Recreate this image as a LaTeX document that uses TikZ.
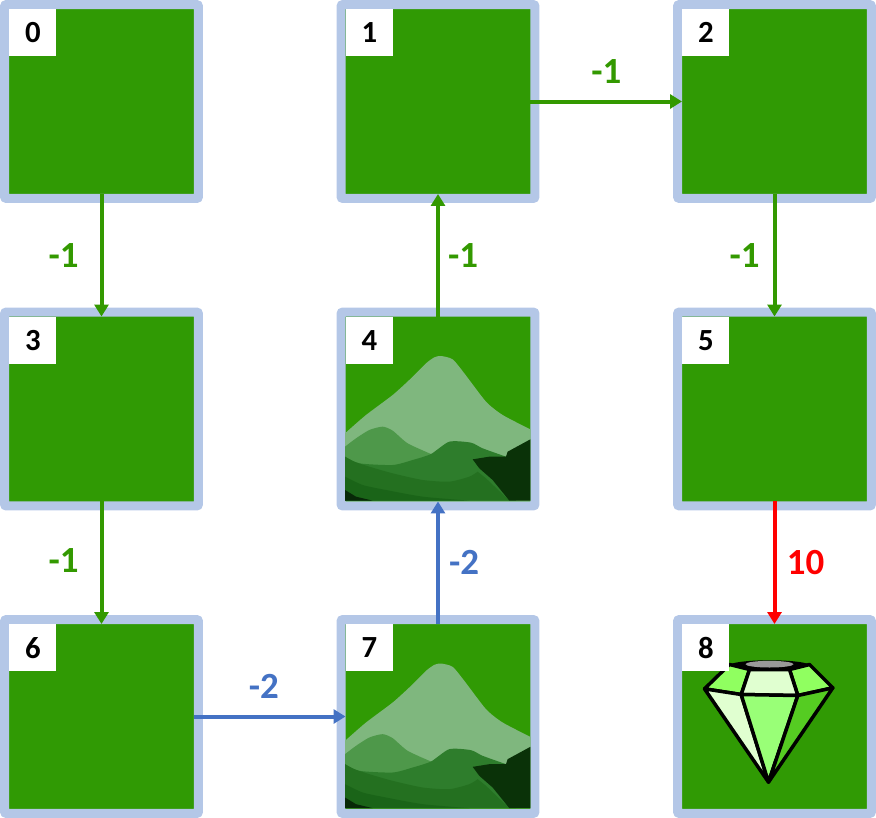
\documentclass[tikz,border=0pt]{standalone}
\usepackage{fontspec}
\setmainfont{Carlito}
\usetikzlibrary{arrows.meta}
\definecolor{framecol}{HTML}{B4C7E7}
\definecolor{grasscol}{HTML}{309A04}
\definecolor{greencol}{HTML}{339900}
\definecolor{bluecol}{HTML}{4472C4}
\definecolor{redcol}{HTML}{FF0000}
\tikzset{
	tilestyle/.style={draw=framecol, fill=grasscol, line width=0.18cm, rounded corners=0.04cm, minimum size=3.88cm, outer sep=-0.09cm, inner sep=0mm},
	numstyle/.style={fill=white, anchor=north west, minimum size=0.94cm, inner sep=0mm, font=\fontsize{17.5}{19}\selectfont\bfseries},
	edgestyle/.style={line width=0.08cm, -{Triangle[width=0.28cm,length=0.24cm]}},
	costnode/.style={font=\fontsize{21}{23}\selectfont\bfseries},
	pics/mountain/.style={code={
		\begin{scope}[x=0.02cm/3, y=-0.02cm/3, shift={(-306,-327)}]
		\fill [color={rgb,255:red,127;green,183;blue,126}] plot [smooth, tension=0.4] coordinates {(27,400) (90,345) (170,285) (225,235) (270,190) (295,172) (315,168) (350,178) (385,220) (450,305) (500,345) (583,388)} -- (583,602) -- (27,602) -- cycle;
		\fill [color={rgb,255:red,78;green,152;blue,74}] plot [smooth, tension=0.4] coordinates {(27,440) (60,415) (100,390) (140,380) (170,392) (215,430) (285,462)} -- (300,520) -- (27,520) -- cycle;
		\fill [color={rgb,255:red,46;green,125;blue,44}] plot [smooth, tension=0.4] coordinates {(27,470) (70,490) (170,495) (230,480) (285,462) (340,425) (405,428) (440,445) (510,470)} -- (540,602) -- (27,602) -- cycle;
		\fill [color={rgb,255:red,36;green,112;blue,32}] plot [smooth, tension=0.4] coordinates {(27,470) (55,485) (100,500) (170,520) (260,540) (340,545) (400,530) (425,515)} -- (450,535) -- (520,602) -- (27,602) -- cycle;
		\fill [color={rgb,255:red,26;green,100;blue,24}] plot [smooth, tension=0.4] coordinates {(27,530) (80,555) (150,570) (260,590) (400,602)} -- (27,602) -- cycle;
		\fill [color={rgb,255:red,10;green,50;blue,8}] (410,478) -- (460,470) -- (510,470) -- (515,455) -- (583,418) -- (583,602) -- (520,602) -- (470,540) -- (430,505) -- cycle;
		\fill [color={rgb,255:red,8;green,40;blue,8}] (27,570) -- (60,590) -- (110,602) -- (27,602) -- cycle;
		\end{scope}
	}},
	pics/gem/.style={code={
		\begin{scope}[x=0.02cm/3, y=-0.02cm/3, shift={(-315,-321)}, line width=0.07cm, line join=round, draw=black]
		\fill [black] (180,165) .. controls (215,148) and (385,148) .. (420,165) -- (360,185) -- (240,185) -- cycle;
		\filldraw [fill={rgb,255:red,144;green,255;blue,96}] (180,165) -- (240,180) -- (215,255) -- (105,238) -- cycle;
		\filldraw [fill={rgb,255:red,144;green,255;blue,96}] (360,180) -- (420,165) -- (490,235) -- (385,258) -- cycle;
		\filldraw [fill={rgb,255:red,224;green,255;blue,208}] (240,180) -- (360,180) -- (385,258) -- (215,255) -- cycle;
		\filldraw [fill={rgb,255:red,224;green,255;blue,208}] (105,238) -- (215,255) -- (297,518) -- cycle;
		\filldraw [fill={rgb,255:red,153;green,255;blue,119}] (215,255) -- (385,258) -- (297,518) -- cycle;
		\filldraw [fill={rgb,255:red,85;green,204;blue,34}] (385,258) -- (490,235) -- (297,518) -- cycle;
		\fill [gray!80] (300,164) ellipse [x radius=72, y radius=10];
		\end{scope}
	}}
}
\begin{document}
\begin{tikzpicture}[x=0.02cm, y=-0.02cm]
	\useasboundingbox (0,0) rectangle (876,818);

	\node [tilestyle] (t0) at (101.5,101.5) {};
	\node [tilestyle] (t1) at (438,101.5) {};
	\node [tilestyle] (t2) at (774.5,101.5) {};
	\node [tilestyle] (t3) at (101.5,409) {};
	\node [tilestyle] (t4) at (438,409) {};
	\node [tilestyle] (t5) at (774.5,409) {};
	\node [tilestyle] (t6) at (101.5,716.5) {};
	\node [tilestyle] (t7) at (438,716.5) {};
	\node [tilestyle] (t8) at (774.5,716.5) {};

	\pic at (t4) {mountain};
	\pic at (t7) {mountain};
	\pic at (t8) {gem};

	\node [numstyle] (n0) at (t0.north west) {0};
	\node [numstyle] (n1) at (t1.north west) {1};
	\node [numstyle] (n2) at (t2.north west) {2};
	\node [numstyle] (n3) at (t3.north west) {3};
	\node [numstyle] (n4) at (t4.north west) {4};
	\node [numstyle] (n5) at (t5.north west) {5};
	\node [numstyle] (n6) at (t6.north west) {6};
	\node [numstyle] (n7) at (t7.north west) {7};
	\node [numstyle] (n8) at (t8.north west) {8};

	\draw [edgestyle, greencol] (t0) -- node [costnode, xshift=-0.76cm] (c0) {-1} (t3);
	\draw [edgestyle, greencol] (t3) -- node [costnode, xshift=-0.76cm, yshift=0.04cm] (c3) {-1} (t6);
	\draw [edgestyle, greencol] (t1) -- node [costnode, yshift=0.6cm] (c1) {-1} (t2);
	\draw [edgestyle, greencol] (t4) -- node [costnode, xshift=0.5cm] (c4) {-1} (t1);
	\draw [edgestyle, greencol] (t2) -- node [costnode, xshift=-0.6cm] (c2) {-1} (t5);
	\draw [edgestyle, bluecol] (t6) -- node [costnode, xshift=-0.12cm, yshift=0.6cm] (c6) {-2} (t7);
	\draw [edgestyle, bluecol] (t7) -- node [costnode, xshift=0.52cm] (c7) {-2} (t4);
	\draw [edgestyle, redcol] (t5) -- node [costnode, xshift=0.62cm] (c5) {10} (t8);
\end{tikzpicture}
\end{document}
